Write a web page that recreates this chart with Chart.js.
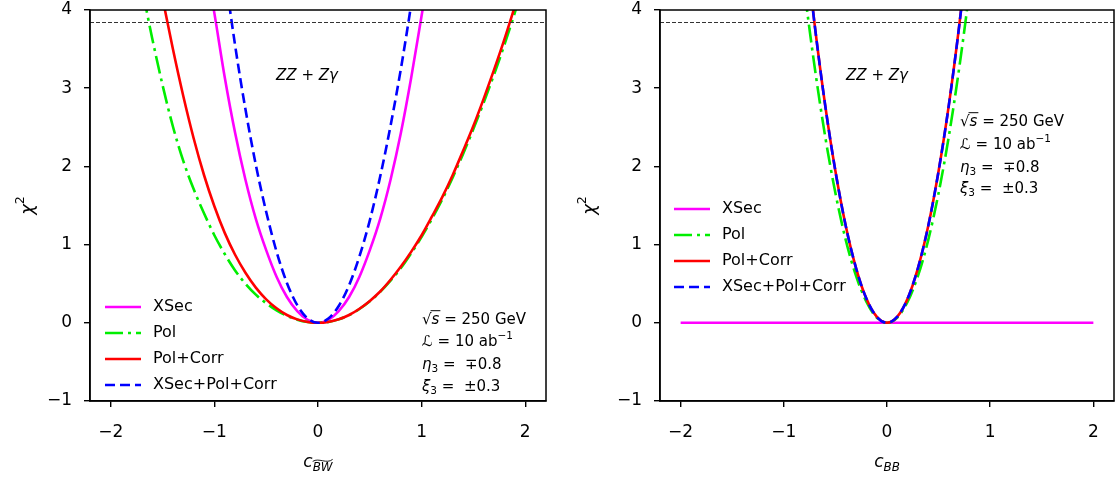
<!DOCTYPE html>
<html>
<head>
<meta charset="utf-8">
<script src="https://cdn.jsdelivr.net/npm/chart.js@4.4.1/dist/chart.umd.min.js"></script>
<style>
  body { margin: 0; background: #fff; }
  canvas { position: absolute; top: 0; }
</style>
</head>
<body>
<canvas id="bwChart" width="560" height="480" style="left:0"></canvas>
<canvas id="bbChart" width="559" height="480" style="left:560px"></canvas>
<script>
// x grid shared by every curve
const xGrid = [-2.0, -1.9, -1.8, -1.7, -1.6, -1.5, -1.4, -1.3, -1.2, -1.1, -1.0,
    -0.9, -0.8, -0.7, -0.6, -0.5, -0.4, -0.3, -0.2, -0.1, 0.0,
    0.1, 0.2, 0.3, 0.4, 0.5, 0.6, 0.7, 0.8, 0.9, 1.0,
    1.1, 1.2, 1.3, 1.4, 1.5, 1.6, 1.7, 1.8, 1.9, 2.0];

const xTicks = [-2, -1, 0, 1, 2];
const yTicks = [-1, 0, 1, 2, 3, 4];
const chi2Limit = 3.84;

// left panel: c_BW~
const bwXSec = [null, null, null, null, null, null, null, null, 5.55, 4.72, 3.96,
    3.14, 2.43, 1.83, 1.33, 0.93, 0.59, 0.33, 0.15, 0.037, 0,
    0.037, 0.15, 0.33, 0.59, 0.93, 1.33, 1.83, 2.43, 3.14, 3.93,
    4.72, 5.55, null, null, null, null, null, null, null, null];
const bwPol = [null, 5.75, 5.0, 4.30, 3.64, 3.04, 2.51, 2.07, 1.71, 1.40, 1.12,
    0.88, 0.67, 0.50, 0.36, 0.25, 0.16, 0.09, 0.04, 0.01, 0,
    0.011, 0.044, 0.099, 0.176, 0.275, 0.396, 0.54, 0.70, 0.89, 1.10,
    1.33, 1.58, 1.86, 2.16, 2.48, 2.82, 3.18, 3.56, 3.97, 4.40];
const bwPolCorr = [null, null, null, 5.6, 4.85, 4.15, 3.50, 2.90, 2.36, 1.89, 1.49,
    1.15, 0.87, 0.64, 0.45, 0.30, 0.185, 0.10, 0.044, 0.011, 0,
    0.011, 0.045, 0.10, 0.18, 0.28, 0.40, 0.55, 0.72, 0.91, 1.12,
    1.36, 1.61, 1.89, 2.20, 2.52, 2.87, 3.24, 3.63, 4.05, 4.48];
const bwAll = [null, null, null, null, null, null, null, null, null, null, 5.6,
    4.5, 3.55, 2.73, 2.02, 1.42, 0.91, 0.51, 0.225, 0.056, 0,
    0.054, 0.215, 0.48, 0.85, 1.31, 1.87, 2.52, 3.25, 4.08, 5.0,
    null, null, null, null, null, null, null, null, null, null];

// right panel: c_BB
const bbXSec = [0, 0, 0, 0, 0, 0, 0, 0, 0, 0, 0,
    0, 0, 0, 0, 0, 0, 0, 0, 0, 0,
    0, 0, 0, 0, 0, 0, 0, 0, 0, 0,
    0, 0, 0, 0, 0, 0, 0, 0, 0, 0];
const bbPol = [null, null, null, null, null, null, null, null, null, null, null,
    5.39, 4.26, 3.26, 2.39, 1.66, 1.06, 0.60, 0.27, 0.067, 0,
    0.067, 0.27, 0.60, 1.06, 1.66, 2.39, 3.26, 4.26, 5.39,
    null, null, null, null, null, null, null, null, null, null, null];
const bbPolCorr = [null, null, null, null, null, null, null, null, null, null, null,
    6.28, 4.96, 3.80, 2.79, 1.94, 1.24, 0.70, 0.31, 0.078, 0,
    0.078, 0.31, 0.70, 1.24, 1.94, 2.79, 3.80, 4.96, 6.28,
    null, null, null, null, null, null, null, null, null, null, null];
const bbAll = [null, null, null, null, null, null, null, null, null, null, null,
    6.28, 4.96, 3.80, 2.79, 1.94, 1.24, 0.70, 0.31, 0.078, 0,
    0.078, 0.31, 0.70, 1.24, 1.94, 2.79, 3.80, 4.96, 6.28,
    null, null, null, null, null, null, null, null, null, null, null];

const FONT = '"DejaVu Sans", sans-serif';

function pts(ys) {
    return xGrid.map((x, i) => ({ x: x, y: ys[i] })).filter(p => p.y !== null);
}

function curves(xsec, pol, polCorr, all) {
    return [{
        label: 'XSec', data: pts(xsec), borderColor: '#ff00ff', borderWidth: 2.6, order: 4
    }, {
        label: 'Pol', data: pts(pol), borderColor: '#00ee00', borderWidth: 2.6,
        borderDash: [18, 5, 3, 5], order: 3
    }, {
        label: 'Pol+Corr', data: pts(polCorr), borderColor: '#ff0000', borderWidth: 2.6, order: 2
    }, {
        label: 'XSec+Pol+Corr', data: pts(all), borderColor: '#0000ff', borderWidth: 2.6,
        borderDash: [10, 5], order: 1
    }, {
        label: '', data: [{ x: -2.2, y: chi2Limit }, { x: 2.2, y: chi2Limit }],
        borderColor: '#333', borderWidth: 1, borderDash: [4, 2], order: 0, cubicInterpolationMode: 'default'
    }];
}

// draw a row of text pieces (italic / sub / sup / bar)
function runWidth(ctx, runs, size) {
    let w = 0;
    runs.forEach(r => {
        const s = (r.sub || r.sup) ? size * 0.7 : size;
        ctx.font = (r.it ? 'italic ' : '') + s + 'px ' + FONT;
        w += ctx.measureText(r.t).width;
    });
    return w;
}

function drawRuns(ctx, x, y, runs, size, align) {
    let cx = align === 'center' ? x - runWidth(ctx, runs, size) / 2 : x;
    ctx.textBaseline = 'middle';
    ctx.textAlign = 'left';
    runs.forEach(r => {
        const s = (r.sub || r.sup) ? size * 0.7 : size;
        ctx.font = (r.it ? 'italic ' : '') + s + 'px ' + FONT;
        const dy = r.sub ? size * 0.28 : (r.sup ? -size * 0.38 : 0);
        ctx.fillText(r.t, cx, y + dy);
        const w = ctx.measureText(r.t).width;
        if (r.bar) {
            ctx.lineWidth = 1;
            ctx.beginPath();
            ctx.moveTo(cx - 1, y - size * 0.62);
            ctx.lineTo(cx + w + 1, y - size * 0.62);
            ctx.stroke();
        }
        if (r.tilde) {
            const ty = y + dy - s * 0.62;
            ctx.lineWidth = 0.9;
            ctx.beginPath();
            ctx.moveTo(cx, ty + 1);
            ctx.bezierCurveTo(cx + w * 0.3, ty - 3, cx + w * 0.7, ty + 4, cx + w, ty - 1);
            ctx.stroke();
        }
        cx += w;
    });
}

const decor = {
    id: 'decor',
    afterDraw(chart, args, opts) {
        const ctx = chart.ctx;
        const a = chart.chartArea;
        ctx.save();
        ctx.fillStyle = '#000';
        ctx.strokeStyle = '#000';

        // spines
        ctx.setLineDash([]);
        ctx.lineWidth = 1.5;
        ctx.strokeRect(a.left, a.top, a.right - a.left, a.bottom - a.top);

        // legend
        let ly = opts.legendY;
        chart.data.datasets.forEach(ds => {
            if (!ds.label) return;
            ctx.save();
            ctx.strokeStyle = ds.borderColor;
            ctx.lineWidth = ds.borderWidth;
            ctx.setLineDash(ds.borderDash || []);
            ctx.beginPath();
            ctx.moveTo(opts.legendX, ly);
            ctx.lineTo(opts.legendX + 36, ly);
            ctx.stroke();
            ctx.restore();
            ctx.font = '16px ' + FONT;
            ctx.textBaseline = 'middle';
            ctx.textAlign = 'left';
            ctx.fillText(ds.label, opts.legendX + 48, ly);
            ly += 26;
        });

        // annotations
        ctx.strokeStyle = '#000';
        drawRuns(ctx, opts.procX, 76, [{ t: 'ZZ', it: true }, { t: ' + ' }, { t: 'Zγ', it: true }], 15, 'center');
        const tx = opts.textX;
        const ty = opts.textY;
        drawRuns(ctx, tx, ty[0], [{ t: '√' }, { t: 's', it: true, bar: true }, { t: ' = 250 GeV' }], 15);
        drawRuns(ctx, tx, ty[1], [{ t: 'ℒ', it: true }, { t: ' = 10 ab' }, { t: '−1', sup: true }], 15);
        drawRuns(ctx, tx, ty[2], [{ t: 'η', it: true }, { t: '3', sub: true }, { t: ' =  ∓0.8' }], 15);
        drawRuns(ctx, tx, ty[3], [{ t: 'ξ', it: true }, { t: '3', sub: true }, { t: ' =  ±0.3' }], 15);

        // axis titles
        drawRuns(ctx, chart.scales.x.getPixelForValue(0), 463, opts.xTitle, 17, 'center');
        ctx.save();
        ctx.translate(opts.yTitleX, (a.top + a.bottom) / 2);
        ctx.rotate(-Math.PI / 2);
        drawRuns(ctx, 0, 0, [{ t: 'χ', it: true }, { t: '2', sup: true }], 18, 'center');
        ctx.restore();

        ctx.restore();
    }
};

function fmt(v) {
    return v < 0 ? '−' + Math.abs(v) : String(v);
}

function makeChart(id, datasets, yWidth, padRight, opts) {
    return new Chart(document.getElementById(id), {
        type: 'line',
        data: { datasets: datasets },
        plugins: [decor],
        options: {
            responsive: false,
            devicePixelRatio: 1,
            animation: false,
            events: [],
            layout: { padding: { left: 0, right: padRight, top: 10, bottom: 0 } },
            elements: {
                point: { radius: 0 },
                line: { cubicInterpolationMode: 'monotone', fill: false, borderCapStyle: 'butt' }
            },
            plugins: {
                legend: { display: false },
                tooltip: { enabled: false },
                decor: opts
            },
            scales: {
                x: {
                    type: 'linear',
                    min: -2.2,
                    max: 2.2,
                    afterBuildTicks: s => { s.ticks = xTicks.map(v => ({ value: v })); },
                    afterFit: s => { s.height = 79; s.paddingLeft = 0; s.paddingRight = 0; },
                    ticks: { color: '#000', font: { family: FONT, size: 17 }, padding: 15, maxRotation: 0, callback: fmt },
                    grid: { drawOnChartArea: false, color: '#000', lineWidth: 1.4, tickLength: 6 },
                    border: { color: '#000', width: 1.5 }
                },
                y: {
                    type: 'linear',
                    min: -1,
                    max: 4,
                    afterBuildTicks: s => { s.ticks = yTicks.map(v => ({ value: v })); },
                    afterFit: s => { s.width = yWidth; s.paddingTop = 0; s.paddingBottom = 0; },
                    ticks: { color: '#000', font: { family: FONT, size: 17 }, padding: 12, callback: fmt },
                    grid: { drawOnChartArea: false, color: '#000', lineWidth: 1.4, tickLength: 6 },
                    border: { color: '#000', width: 1.5 }
                }
            }
        }
    });
}

makeChart('bwChart', curves(bwXSec, bwPol, bwPolCorr, bwAll), 90, 14, {
    legendX: 105, legendY: 307,
    procX: 307, textX: 422, textY: [320, 342, 365, 387],
    yTitleX: 28,
    xTitle: [{ t: 'c', it: true }, { t: 'BW', it: true, sub: true, tilde: true }]
});

makeChart('bbChart', curves(bbXSec, bbPol, bbPolCorr, bbAll), 100, 5, {
    legendX: 114, legendY: 209,
    procX: 317, textX: 400, textY: [122, 145, 168, 189],
    yTitleX: 30,
    xTitle: [{ t: 'c', it: true }, { t: 'BB', it: true, sub: true }]
});
</script>
</body>
</html>
